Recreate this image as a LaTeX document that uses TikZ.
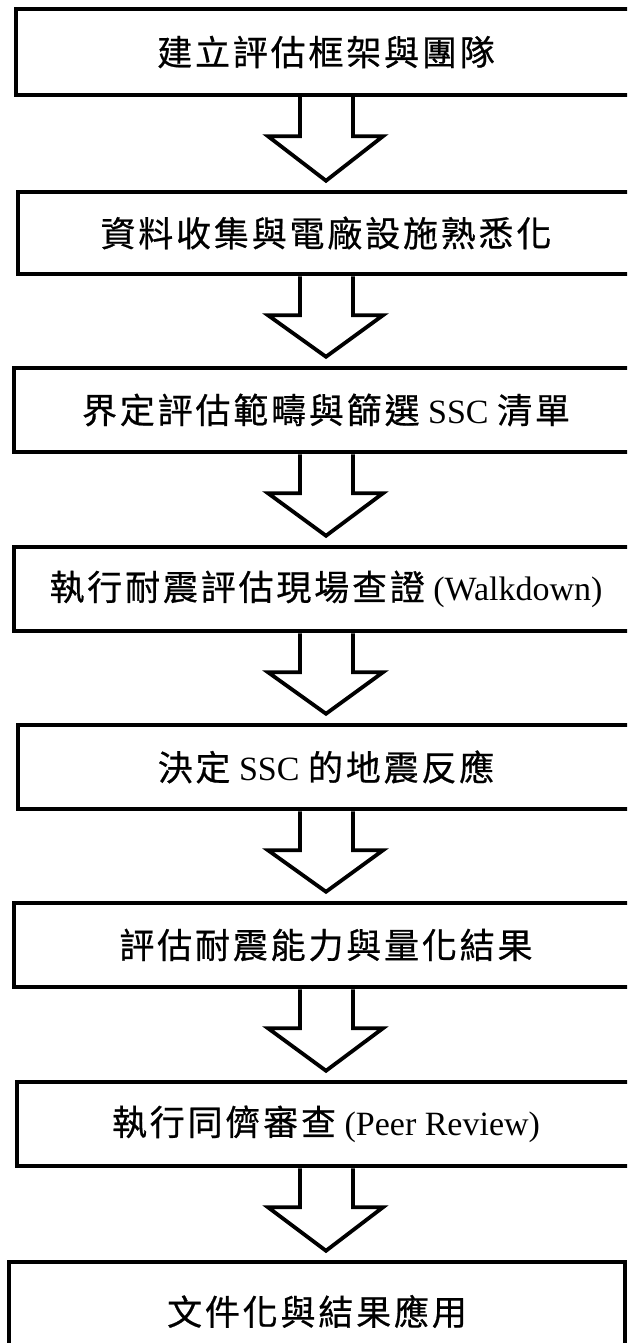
\documentclass[tikz,border=0pt]{standalone}
\usepackage{fontspec}
\setmainfont{Liberation Serif}
\newfontfamily\cjk[Scale=1.03,LetterSpace=8,FakeBold=0.6]{Noto Sans CJK TC}
\usepackage{tikz}
\usetikzlibrary{positioning}

\begin{document}
\begin{tikzpicture}[x=1pt,y=-1pt,
  stepbox/.style={draw=black, line width=4.5pt, fill=white, inner sep=0pt,
    font=\fontsize{34}{40}\selectfont},
  bigarrow/.style={draw=black, line width=3.8pt, fill=white}]
\useasboundingbox (0,0) rectangle (627,1343);
\clip (0,0) rectangle (627,1343);

% steps
\node[stepbox, minimum width=620pt, minimum height=86pt] (b1) at (326,52)
{\cjk 建立評估框架與團隊};
\node[stepbox, minimum width=616pt, minimum height=82pt] (b2) at (326,233)
{\cjk 資料收集與電廠設施熟悉化};
\node[stepbox, minimum width=624pt, minimum height=84pt] (b3) at (326,410)
{{\cjk 界定評估範疇與篩選} SSC {\cjk 清單}};
\node[stepbox, minimum width=624pt, minimum height=84pt] (b4) at (326,589)
{{\cjk 執行耐震評估現場查證} (Walkdown)};
\node[stepbox, minimum width=616pt, minimum height=84pt] (b5) at (326,767)
{{\cjk 決定} SSC {\cjk 的地震反應}};
\node[stepbox, minimum width=624pt, minimum height=84pt] (b6) at (326,945)
{\cjk 評估耐震能力與量化結果};
\node[stepbox, minimum width=618pt, minimum height=84pt] (b7) at (326,1124)
{{\cjk 執行同儕審查} (Peer Review)};
\node[stepbox, minimum width=616pt, minimum height=100pt] (b8) at (317,1312)
{\raisebox{4pt}{\cjk 文件化與結果應用}};

%block arrows
\foreach \a/\b in {b1/b2,b2/b3,b3/b4,b4/b5,b5/b6,b6/b7,b7/b8}
{
\draw[bigarrow] ([xshift=-26pt]\a.south) -- ([xshift=-26pt,yshift=-39pt]\a.south)
  -- ([xshift=-58pt,yshift=-39pt]\a.south) -- ([yshift=9pt]\b.north -| \a.south)
  -- ([xshift=57pt,yshift=-39pt]\a.south) -- ([xshift=27pt,yshift=-39pt]\a.south)
  -- ([xshift=27pt]\a.south);
}

\end{tikzpicture}
\end{document}
